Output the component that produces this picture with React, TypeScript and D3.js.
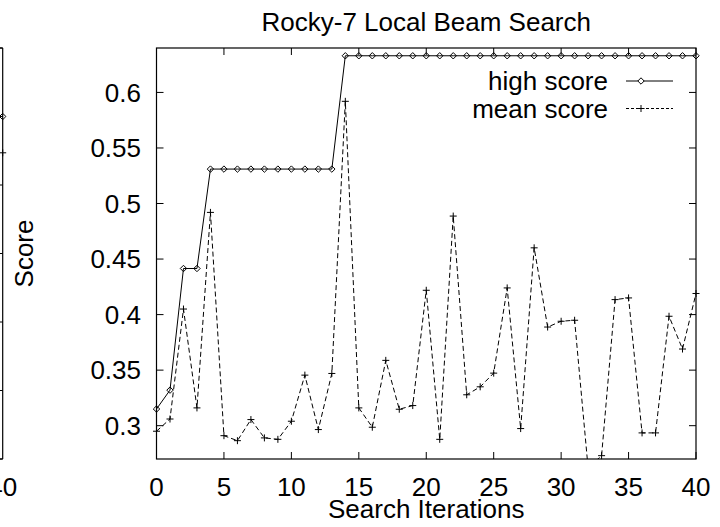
import React from "react";
import * as d3 from "d3";

const title = "Rocky-7 Local Beam Search";
const xLabel = "Search Iterations";
const yLabel = "Score";
const seriesNames = ["high score", "mean score"];

const highScore = [
  0.315, 0.332, 0.4415, 0.4415, 0.531, 0.531, 0.531, 0.531, 0.531, 0.531,
  0.531, 0.531, 0.531, 0.531, 0.633, 0.633, 0.633, 0.633, 0.633, 0.633,
  0.633, 0.633, 0.633, 0.633, 0.633, 0.633, 0.633, 0.633, 0.633, 0.633,
  0.633, 0.633, 0.633, 0.633, 0.633, 0.633, 0.633, 0.633, 0.633, 0.633,
  0.633,
];
const meanScore = [
  0.295, 0.306, 0.405, 0.316, 0.492, 0.291, 0.2865, 0.3055, 0.289, 0.2877,
  0.304, 0.3455, 0.2965, 0.347, 0.592, 0.316, 0.2986, 0.3588, 0.3148, 0.3181,
  0.4219, 0.2877, 0.4887, 0.3278, 0.335, 0.3473, 0.424, 0.2974, 0.4601, 0.3888,
  0.394, 0.3949, 0.262, 0.273, 0.4135, 0.415, 0.2935, 0.2935, 0.3985, 0.369,
  0.419,
];
const xTicks = [0, 5, 10, 15, 20, 25, 30, 35, 40];
const yTicks = [0.3, 0.35, 0.4, 0.45, 0.5, 0.55, 0.6];

// fragment of the neighbouring (left) panel, cut off by the picture edge
const leftPanelXTicks = [40];
const leftPanelYTicks = [0.2, 0.3, 0.4, 0.5, 0.6, 0.7, 0.8];
const leftPanelHigh = [0.7];
const leftPanelMean = [0.647];
const leftPanelIter = [40];

const FONT = "'Liberation Sans', Arial, Helvetica, sans-serif";
const FS = 26;

export default function App() {
  const W = 720, H = 527;
  const left = 156.5, right = 696, top = 48, bottom = 459;
  const x = d3.scaleLinear().domain([0, 40]).range([left, right]);
  const y = d3.scaleLinear().domain([0.27, 0.64]).range([bottom, top]);

  const lx = d3.scaleLinear().domain([0, 40]).range([2.7 - (right - left), 2.7]);
  const ly = d3.scaleLinear().domain([0.2, 0.8]).range([bottom, top]);

  const line = d3
    .line<number>()
    .x((_, i) => x(i))
    .y((d) => y(d));

  const tickLen = 7;
  const diamond = (cx: number, cy: number, r = 3.2) =>
    `M${cx},${cy - r}L${cx + r},${cy}L${cx},${cy + r}L${cx - r},${cy}Z`;
  const plus = (cx: number, cy: number, r = 3.5) =>
    `M${cx - r},${cy}H${cx + r}M${cx},${cy - r}V${cy + r}`;

  const inRange = (v: number) => v >= 0.27 && v <= 0.64;

  const legX1 = 626, legX2 = 673, legMark = 641;
  const legY = [81, 108.5];

  return (
    <svg
      width={W}
      height={H}
      style={{ position: "absolute", left: 0, top: 0, background: "#fff" }}
      fontFamily={FONT}
    >
      <rect x={0} y={0} width={W} height={H} fill="#fff" />
      <defs>
        <clipPath id="plotclip">
          <rect x={left} y={top} width={right - left} height={bottom - top} />
        </clipPath>
      </defs>

      {/* left panel fragment */}
      <g>
        <line x1={lx(40)} x2={lx(40)} y1={top} y2={bottom} stroke="#000" strokeWidth={1.2} />
        <line x1={0} x2={lx(40)} y1={top} y2={top} stroke="#000" strokeWidth={1.2} />
        <line x1={0} x2={lx(40)} y1={bottom} y2={bottom} stroke="#000" strokeWidth={1.2} />
        {leftPanelYTicks.map((t) => (
          <line key={t} x1={lx(40) - tickLen} x2={lx(40)} y1={ly(t)} y2={ly(t)} stroke="#000" strokeWidth={1} />
        ))}
        {leftPanelXTicks.map((t) => (
          <text key={t} x={lx(t)} y={496} fontSize={FS} textAnchor="middle" fill="#000">
            {t}
          </text>
        ))}
        {leftPanelIter.map((it, i) => (
          <g key={it}>
            <path d={diamond(lx(it), ly(leftPanelHigh[i]))} fill="none" stroke="#000" strokeWidth={1} />
            <path d={plus(lx(it), ly(leftPanelMean[i]))} fill="none" stroke="#000" strokeWidth={1} />
          </g>
        ))}
      </g>

      {/* title */}
      <text x={(left + right) / 2} y={31} fontSize={FS} textAnchor="middle" fill="#000">
        {title}
      </text>

      {/* ticks */}
      {yTicks.map((t) => (
        <g key={"y" + t}>
          <line x1={left} x2={left + tickLen} y1={y(t)} y2={y(t)} stroke="#000" strokeWidth={1} />
          <line x1={right - tickLen} x2={right} y1={y(t)} y2={y(t)} stroke="#000" strokeWidth={1} />
          <text x={141} y={y(t) + 9.3} fontSize={FS} textAnchor="end" fill="#000">
            {String(t)}
          </text>
        </g>
      ))}
      {xTicks.map((t) => (
        <g key={"x" + t}>
          <line x1={x(t)} x2={x(t)} y1={bottom} y2={bottom - tickLen} stroke="#000" strokeWidth={1} />
          <line x1={x(t)} x2={x(t)} y1={top} y2={top + tickLen} stroke="#000" strokeWidth={1} />
          <text x={x(t)} y={496} fontSize={FS} textAnchor="middle" fill="#000">
            {t}
          </text>
        </g>
      ))}

      {/* axis labels */}
      <text x={(left + right) / 2} y={518} fontSize={FS} textAnchor="middle" fill="#000">
        {xLabel}
      </text>
      <text
        transform={`translate(33,${(top + bottom) / 2}) rotate(-90)`}
        fontSize={FS}
        textAnchor="middle"
        fill="#000"
      >
        {yLabel}
      </text>

      {/* data lines */}
      <g clipPath="url(#plotclip)">
        <path d={line(meanScore) || ""} fill="none" stroke="#000" strokeWidth={1} strokeDasharray="5,3" />
        <path d={line(highScore) || ""} fill="none" stroke="#000" strokeWidth={1} />
      </g>
      {meanScore.map((v, i) =>
        inRange(v) ? <path key={"m" + i} d={plus(x(i), y(v))} fill="none" stroke="#000" strokeWidth={1} /> : null
      )}
      {highScore.map((v, i) =>
        inRange(v) ? <path key={"h" + i} d={diamond(x(i), y(v))} fill="none" stroke="#000" strokeWidth={1} /> : null
      )}

      {/* legend */}
      <text x={608} y={legY[0] + 9.3} fontSize={FS} textAnchor="end" fill="#000">
        {seriesNames[0]}
      </text>
      <line x1={legX1} x2={legX2} y1={legY[0]} y2={legY[0]} stroke="#000" strokeWidth={1} />
      <path d={diamond(legMark, legY[0])} fill="#fff" stroke="#000" strokeWidth={1} />
      <text x={608} y={legY[1] + 9.3} fontSize={FS} textAnchor="end" fill="#000">
        {seriesNames[1]}
      </text>
      <line x1={legX1} x2={legX2} y1={legY[1]} y2={legY[1]} stroke="#000" strokeWidth={1} strokeDasharray="3,2" />
      <path d={plus(legMark, legY[1])} fill="none" stroke="#000" strokeWidth={1} />

      {/* border */}
      <rect x={left} y={top} width={right - left} height={bottom - top} fill="none" stroke="#000" strokeWidth={1.2} />
    </svg>
  );
}
